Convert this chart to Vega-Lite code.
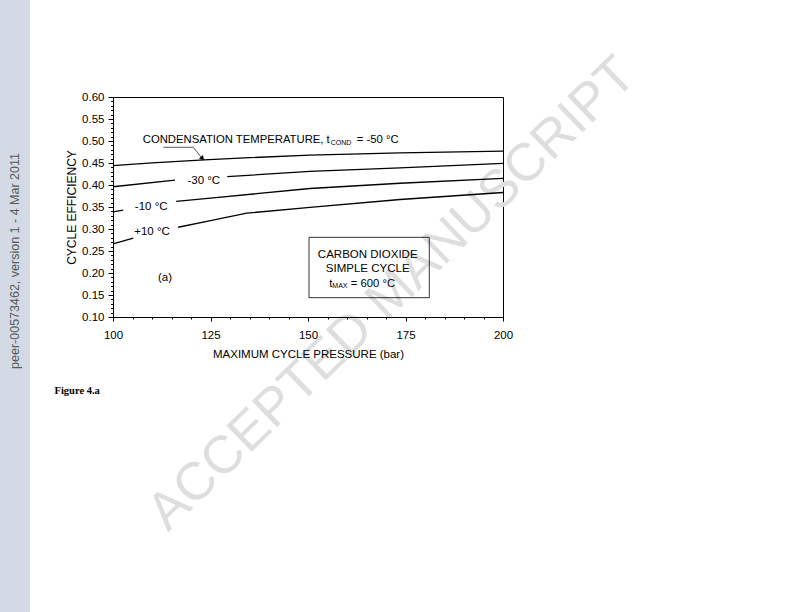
{
  "$schema": "https://vega.github.io/schema/vega-lite/v6.json",
  "width": 390,
  "height": 220,
  "autosize": {"type": "none"},
  "padding": {"left": 113, "top": 97, "right": 289, "bottom": 295},
  "background": "white",
  "datasets": {
    "curves": [
      {"x": 100, "y": 0.444, "seg": "m50"},
      {"x": 110, "y": 0.4505, "seg": "m50"},
      {"x": 123.4, "y": 0.457, "seg": "m50"},
      {"x": 135, "y": 0.462, "seg": "m50"},
      {"x": 150.5, "y": 0.468, "seg": "m50"},
      {"x": 173.6, "y": 0.473, "seg": "m50"},
      {"x": 200, "y": 0.477, "seg": "m50"},
      {"x": 100, "y": 0.396, "seg": "m30a"},
      {"x": 115.9, "y": 0.411, "seg": "m30a"},
      {"x": 129.3, "y": 0.419, "seg": "m30b"},
      {"x": 150.5, "y": 0.431, "seg": "m30b"},
      {"x": 173.6, "y": 0.439, "seg": "m30b"},
      {"x": 200, "y": 0.449, "seg": "m30b"},
      {"x": 100, "y": 0.339, "seg": "m10a"},
      {"x": 102.6, "y": 0.343, "seg": "m10a"},
      {"x": 116.2, "y": 0.363, "seg": "m10b"},
      {"x": 125, "y": 0.370, "seg": "m10b"},
      {"x": 150.5, "y": 0.392, "seg": "m10b"},
      {"x": 173.6, "y": 0.404, "seg": "m10b"},
      {"x": 200, "y": 0.415, "seg": "m10b"},
      {"x": 100, "y": 0.266, "seg": "p10a"},
      {"x": 105.2, "y": 0.279, "seg": "p10a"},
      {"x": 116.7, "y": 0.304, "seg": "p10b"},
      {"x": 125, "y": 0.319, "seg": "p10b"},
      {"x": 134.3, "y": 0.336, "seg": "p10b"},
      {"x": 150.5, "y": 0.349, "seg": "p10b"},
      {"x": 173.6, "y": 0.367, "seg": "p10b"},
      {"x": 200, "y": 0.383, "seg": "p10b"}
    ],
    "labels": [
      {"x": 107.62, "y": 0.4962, "text": "CONDENSATION TEMPERATURE, t", "kind": "left"},
      {"x": 155.82, "y": 0.4920, "text": "COND", "kind": "sub"},
      {"x": 162.49, "y": 0.4962, "text": "= -50 °C", "kind": "left"},
      {"x": 123.28, "y": 0.4020, "text": "-30 °C", "kind": "center"},
      {"x": 109.79, "y": 0.3443, "text": "-10 °C", "kind": "center"},
      {"x": 110.0, "y": 0.2875, "text": "+10 °C", "kind": "center"},
      {"x": 113.33, "y": 0.1818, "text": "(a)", "kind": "center"},
      {"x": 165.31, "y": 0.2334, "text": "CARBON DIOXIDE", "kind": "center"},
      {"x": 165.31, "y": 0.2016, "text": "SIMPLE CYCLE", "kind": "center"},
      {"x": 155.46, "y": 0.1689, "text": "t", "kind": "left"},
      {"x": 156.23, "y": 0.1670, "text": "MAX", "kind": "sub"},
      {"x": 160.95, "y": 0.1689, "text": "= 600 °C", "kind": "left"}
    ],
    "box": [{"x": 150.26, "xe": 181.1, "y": 0.2811, "ye": 0.1439}],
    "strip": [{"x": 69.7, "xe": 78.72, "y": 0.83, "ye": -0.58}],
    "striptext": [{"x": 74.87, "y": 0.2273, "text": "peer-00573462, version 1 - 4 Mar 2011"}],
    "watermark": [{"x": 171.54, "y": 0.1523, "text": "ACCEPTED MANUSCRIPT"}],
    "caption": [{"x": 85.0, "y": -0.075, "text": "Figure 4.a"}],
    "leader": [
      {"x": 112.9, "y": 0.4857, "o": 1},
      {"x": 120.59, "y": 0.4857, "o": 2},
      {"x": 122.9, "y": 0.4605, "o": 3}
    ],
    "arrowhead": [{"x": 122.82, "y": 0.4614}]
  },
  "encoding": {
    "x": {
      "field": "x",
      "type": "quantitative",
      "scale": {"domain": [100, 200], "nice": false, "zero": false},
      "axis": {
        "zindex": 2,
        "title": "MAXIMUM CYCLE PRESSURE (bar)",
        "values": [100, 105, 110, 115, 120, 125, 130, 135, 140, 145, 150, 155, 160, 165, 170, 175, 180, 185, 190, 195, 200],
        "labelExpr": "datum.value % 25 === 0 ? datum.label : ''",
        "tickSize": {"condition": {"test": "datum.value % 25 === 0", "value": 4}, "value": 2},
        "labelPadding": 8,
        "labelOverlap": false,
        "labelFlush": false,
        "titleX": 195,
        "titleY": 40,
        "titleBaseline": "alphabetic",
        "titleAlign": "center"
      }
    },
    "y": {
      "field": "y",
      "type": "quantitative",
      "scale": {"domain": [0.1, 0.6], "nice": false, "zero": false},
      "axis": {
        "zindex": 2,
        "title": "CYCLE EFFICIENCY",
        "values": [0.10, 0.11, 0.12, 0.13, 0.14, 0.15, 0.16, 0.17, 0.18, 0.19, 0.20, 0.21, 0.22, 0.23, 0.24, 0.25, 0.26, 0.27, 0.28, 0.29, 0.30, 0.31, 0.32, 0.33, 0.34, 0.35, 0.36, 0.37, 0.38, 0.39, 0.40, 0.41, 0.42, 0.43, 0.44, 0.45, 0.46, 0.47, 0.48, 0.49, 0.50, 0.51, 0.52, 0.53, 0.54, 0.55, 0.56, 0.57, 0.58, 0.59, 0.60],
        "format": ".2f",
        "labelExpr": "round(datum.value * 100) % 5 === 0 ? datum.label : ''",
        "tickSize": {"condition": {"test": "round(datum.value * 100) % 5 === 0", "value": 5}, "value": 2.5},
        "labelPadding": 4,
        "labelOverlap": false,
        "labelFlush": false,
        "titleX": -38,
        "titleY": 110,
        "titleAngle": -90,
        "titleBaseline": "alphabetic",
        "titleAlign": "center",
        "titleFontSize": 12
      }
    }
  },
  "layer": [
    {
      "data": {"name": "strip"},
      "mark": {"type": "rect", "fill": "#d3dae6", "stroke": null},
      "encoding": {"x2": {"field": "xe"}, "y2": {"field": "ye"}}
    },
    {
      "data": {"name": "striptext"},
      "mark": {"type": "text", "angle": -90, "align": "center", "baseline": "middle", "fontSize": 12.5, "color": "#5a5a5a", "font": "Liberation Sans"},
      "encoding": {"text": {"field": "text"}}
    },
    {
      "data": {"name": "watermark"},
      "mark": {"type": "text", "angle": -44, "align": "center", "baseline": "middle", "fontSize": 53, "color": "#dedede", "font": "Liberation Sans"},
      "encoding": {"text": {"field": "text"}}
    },
    {
      "data": {"name": "curves"},
      "mark": {"type": "line", "color": "black", "strokeWidth": 1.3},
      "encoding": {"detail": {"field": "seg"}}
    },
    {
      "data": {"name": "box"},
      "mark": {"type": "rect", "fill": null, "fillOpacity": 0, "stroke": "black", "strokeWidth": 0.8},
      "encoding": {"x2": {"field": "xe"}, "y2": {"field": "ye"}}
    },
    {
      "data": {"name": "labels"},
      "transform": [{"filter": "datum.kind === 'left'"}],
      "mark": {"type": "text", "align": "left", "baseline": "alphabetic", "fontSize": 11.3, "color": "black", "font": "Liberation Sans"},
      "encoding": {"text": {"field": "text"}}
    },
    {
      "data": {"name": "labels"},
      "transform": [{"filter": "datum.kind === 'sub'"}],
      "mark": {"type": "text", "align": "left", "baseline": "alphabetic", "fontSize": 7, "color": "black", "font": "Liberation Sans"},
      "encoding": {"text": {"field": "text"}}
    },
    {
      "data": {"name": "labels"},
      "transform": [{"filter": "datum.kind === 'center'"}],
      "mark": {"type": "text", "align": "center", "baseline": "alphabetic", "fontSize": 11.5, "color": "black", "font": "Liberation Sans"},
      "encoding": {"text": {"field": "text"}}
    },
    {
      "data": {"name": "leader"},
      "mark": {"type": "line", "color": "#333333", "strokeWidth": 0.8},
      "encoding": {"order": {"field": "o"}}
    },
    {
      "data": {"name": "arrowhead"},
      "mark": {"type": "point", "shape": "triangle", "filled": true, "color": "black", "size": 28, "angle": 140, "opacity": 1},
      "encoding": {}
    },
    {
      "data": {"name": "caption"},
      "mark": {"type": "text", "align": "left", "baseline": "alphabetic", "fontSize": 10.5, "fontWeight": "bold", "color": "black", "font": "Liberation Serif"},
      "encoding": {"text": {"field": "text"}}
    }
  ],
  "config": {
    "view": {"stroke": "black", "strokeWidth": 1},
    "font": "Liberation Sans",
    "axis": {
      "domainColor": "black",
      "tickColor": "black",
      "labelColor": "black",
      "titleColor": "black",
      "labelFont": "Liberation Sans",
      "titleFont": "Liberation Sans",
      "labelFontSize": 11.5,
      "titleFontSize": 11.5,
      "titleFontWeight": "normal",
      "grid": false,
      "domainWidth": 1,
      "tickWidth": 1
    }
  }
}
